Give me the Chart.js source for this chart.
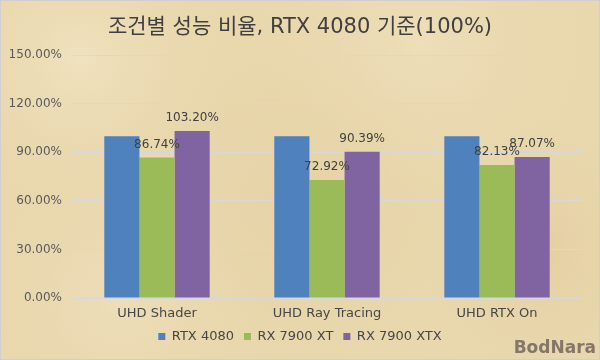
<!DOCTYPE html>
<html>
<head>
<meta charset="utf-8">
<script src="https://cdn.jsdelivr.net/npm/chart.js@4"></script>
<style>
  html, body { margin: 0; padding: 0; background: #ead9b2; }
  canvas { display: block; }
</style>
</head>
<body>
<canvas id="myChart" width="600" height="360"></canvas>
<script>
// chart values
const categories = ['UHD Shader', 'UHD Ray Tracing', 'UHD RTX On'];
const seriesNames = ['RTX 4080', 'RX 7900 XT', 'RX 7900 XTX'];
const rtx4080 = [100, 100, 100];
const rx7900xt = [86.74, 72.92, 82.13];
const rx7900xtx = [103.20, 90.39, 87.07];
const yTicks = [0, 30, 60, 90, 120, 150];

const colors = ['#4f81bd', '#9bbb59', '#8064a2'];
const textColor = '#474747';
const fontFamily = "'DejaVu Sans', 'Noto Sans CJK KR', sans-serif";

// parchment-ish background + frame + watermark
const paper = {
    id: 'paper',
    beforeDraw(chart) {
        const c = chart.ctx;
        c.save();
        c.fillStyle = '#e9d7ad';
        c.fillRect(0, 0, chart.width, chart.height);
        const spots = [
            [80, 60, 160, 'rgba(245,235,205,0.55)'],
            [420, 40, 180, 'rgba(242,230,198,0.5)'],
            [300, 200, 200, 'rgba(222,200,150,0.35)'],
            [540, 250, 140, 'rgba(218,194,142,0.4)'],
            [120, 300, 150, 'rgba(242,230,200,0.45)']
        ];
        spots.forEach(s => {
            const g = c.createRadialGradient(s[0], s[1], 0, s[0], s[1], s[2]);
            g.addColorStop(0, s[3]);
            g.addColorStop(1, 'rgba(233,215,173,0)');
            c.fillStyle = g;
            c.fillRect(0, 0, chart.width, chart.height);
        });
        c.restore();
    },
    afterDraw(chart) {
        const c = chart.ctx;
        c.save();
        c.strokeStyle = '#cfcfcf';
        c.lineWidth = 1;
        c.strokeRect(0.5, 0.5, chart.width - 1, chart.height - 1);
        c.font = "bold 17px 'DejaVu Sans', sans-serif";
        c.fillStyle = '#84776a';
        c.textAlign = 'right';
        c.textBaseline = 'alphabetic';
        c.fillText('BodNara', 596, 353);
        c.restore();
    }
};

// value labels above the RX bars
const valueLabels = {
    id: 'valueLabels',
    afterDatasetsDraw(chart) {
        const c = chart.ctx;
        c.save();
        c.font = '12px ' + fontFamily;
        c.fillStyle = '#404040';
        c.textAlign = 'center';
        c.textBaseline = 'alphabetic';
        [1, 2].forEach(di => {
            const meta = chart.getDatasetMeta(di);
            meta.data.forEach((bar, i) => {
                const v = chart.data.datasets[di].data[i];
                c.fillText(v.toFixed(2) + '%', bar.x, bar.y - 10);
            });
        });
        c.restore();
    }
};

const ctx = document.getElementById('myChart').getContext('2d');
const chart = new Chart(ctx, {
    type: 'bar',
    data: {
        labels: categories,
        datasets: [
            { label: seriesNames[0], data: rtx4080, backgroundColor: colors[0] },
            { label: seriesNames[1], data: rx7900xt, backgroundColor: colors[1] },
            { label: seriesNames[2], data: rx7900xtx, backgroundColor: colors[2] }
        ]
    },
    options: {
        responsive: false,
        animation: false,
        layout: { padding: { left: 10, right: 10, top: 0, bottom: 7 } },
        datasets: {
            bar: { categoryPercentage: 0.62, barPercentage: 1.0 }
        },
        plugins: {
            title: {
                display: true,
                text: '조건별 성능 비율, RTX 4080 기준(100%)',
                color: '#404040',
                font: { family: fontFamily, size: 21, weight: 'normal', lineHeight: 1.2 },
                padding: { top: 15, bottom: 15 }
            },
            legend: {
                position: 'bottom',
                labels: {
                    boxWidth: 7,
                    boxHeight: 7,
                    color: textColor,
                    padding: 10,
                    font: { family: fontFamily, size: 13 }
                }
            },
            tooltip: { enabled: false }
        },
        scales: {
            x: {
                grid: { display: false },
                border: { display: false },
                afterFit(axis) { axis.height = 22; },
                ticks: {
                    color: textColor,
                    padding: 1,
                    font: { family: fontFamily, size: 13, lineHeight: 1 }
                }
            },
            y: {
                min: 0,
                max: 150,
                afterBuildTicks(axis) {
                    axis.ticks = yTicks.map(v => ({ value: v }));
                },
                afterFit(axis) { axis.width = 62; },
                grid: { color: '#d6d8df', lineWidth: 1, drawTicks: false },
                border: { display: false },
                ticks: {
                    color: '#5a5a5a',
                    padding: 10,
                    font: { family: fontFamily, size: 12 },
                    callback: v => v.toFixed(2) + '%'
                }
            },
            // empty spacer on the right so the plot ends where the original does
            yRight: {
                position: 'right',
                min: 0,
                max: 150,
                grid: { display: false },
                border: { display: false },
                ticks: { display: false },
                afterFit(axis) { axis.width = 8; }
            }
        }
    },
    plugins: [paper, valueLabels]
});
</script>
</body>
</html>
